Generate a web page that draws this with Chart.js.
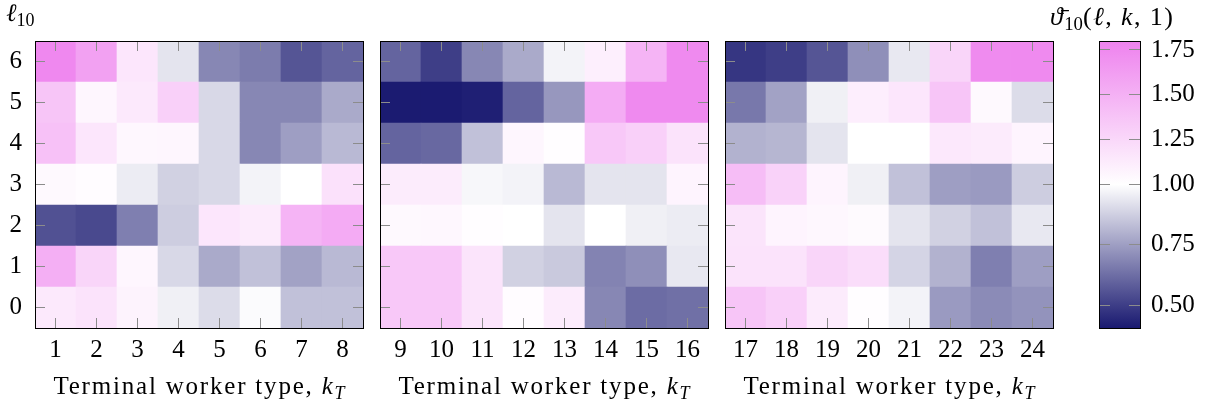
<!DOCTYPE html>
<html>
<head>
<meta charset="utf-8">
<script src="https://cdn.jsdelivr.net/npm/chart.js@4.4.1/dist/chart.umd.min.js"></script>
<style>
  html, body { margin: 0; padding: 0; background: #fff; }
  #wrap { position: relative; width: 1213px; height: 408px; overflow: hidden; font-family: "Liberation Serif", serif; color: #000; }
  #wrap canvas { position: absolute; left: 0; top: 0; }
  .lbl { position: absolute; white-space: nowrap; font-size: 25px; line-height: 25px; }
  .xt { width: 340px; text-align: center; letter-spacing: 1.8px; top: 373px; }
  .cb { font-size: 26px; letter-spacing: 1.4px; }
  .lbl sub { font-size: 72%; vertical-align: baseline; position: relative; top: 0.28em; line-height: 0; letter-spacing: 0; }
</style>
</head>
<body>
<div id="wrap">
  <canvas id="panel0" width="1213" height="408"></canvas>
  <canvas id="panel1" width="1213" height="408"></canvas>
  <canvas id="panel2" width="1213" height="408"></canvas>
  <canvas id="colorbar" width="1213" height="408"></canvas>
  <div class="lbl" style="left:6px; top:0px;"><i>ℓ</i><sub>10</sub></div>
  <div class="lbl xt" style="left:29px;">Terminal worker type, <i>k</i><sub><i>T</i></sub></div>
  <div class="lbl xt" style="left:374px;">Terminal worker type, <i>k</i><sub><i>T</i></sub></div>
  <div class="lbl xt" style="left:719px;">Terminal worker type, <i>k</i><sub><i>T</i></sub></div>
  <div class="lbl cb" style="left:1050px; top:4px;"><i>ϑ̄</i><sub>10</sub>(<i>ℓ</i>, <i>k</i>, 1)</div>
</div>
<script>
// heatmap values, one array per row ell_10 = 0..6, columns k_T = 1..24
const workerTypes = [1, 2, 3, 4, 5, 6, 7, 8, 9, 10, 11, 12, 13, 14, 15, 16, 17, 18, 19, 20, 21, 22, 23, 24];
const ellLevels = [0, 1, 2, 3, 4, 5, 6];

const ell0 = [1.14, 1.18, 1.08, 0.96, 0.91, 0.99, 0.84, 0.84, 1.35, 1.35, 1.17, 1.02, 1.12, 0.69, 0.62, 0.63, 1.37, 1.30, 1.13, 1.01, 0.97, 0.74, 0.70, 0.72];
const ell1 = [1.51, 1.27, 1.06, 0.90, 0.78, 0.84, 0.76, 0.82, 1.35, 1.35, 1.17, 0.88, 0.86, 0.68, 0.71, 0.94, 1.18, 1.18, 1.27, 1.22, 0.89, 0.80, 0.67, 0.75];
const ell2 = [0.55, 0.53, 0.67, 0.87, 1.16, 1.13, 1.48, 1.54, 1.04, 1.05, 1.01, 1.00, 0.93, 1.00, 0.96, 0.95, 1.17, 1.07, 1.05, 1.03, 0.93, 0.88, 0.84, 0.94];
const ell3 = [1.04, 1.02, 0.95, 0.88, 0.90, 0.97, 1.00, 1.19, 1.12, 1.12, 0.98, 0.97, 0.82, 0.93, 0.93, 1.07, 1.42, 1.29, 1.07, 0.96, 0.84, 0.75, 0.74, 0.87];
const ell4 = [1.40, 1.16, 1.05, 1.06, 0.90, 0.69, 0.75, 0.82, 0.60, 0.61, 0.84, 1.06, 1.01, 1.35, 1.30, 1.18, 0.80, 0.81, 0.93, 1.00, 1.00, 1.15, 1.13, 1.07];
const ell5 = [1.37, 1.06, 1.14, 1.30, 0.90, 0.69, 0.69, 0.78, 0.41, 0.41, 0.42, 0.60, 0.73, 1.53, 1.75, 1.75, 0.65, 0.76, 0.96, 1.11, 1.16, 1.37, 1.04, 0.91];
const ell6 = [1.76, 1.60, 1.16, 0.93, 0.69, 0.66, 0.56, 0.60, 0.60, 0.50, 0.69, 0.78, 0.97, 1.10, 1.48, 1.75, 0.48, 0.50, 0.56, 0.71, 0.94, 1.27, 1.74, 1.75];
const ellRows = [ell0, ell1, ell2, ell3, ell4, ell5, ell6];

const colorTicks = [0.50, 0.75, 1.00, 1.25, 1.50, 1.75];
const colorMin = 0.405;
const colorMax = 1.8;

const navy = [25, 25, 112];
const white = [255, 255, 255];
const violet = [238, 130, 238];

Chart.defaults.font.family = "'Liberation Serif', serif";
Chart.defaults.font.size = 25;
Chart.defaults.color = '#000';

function mix(a, b, t) {
    const c = a.map((v, i) => Math.round(v + (b[i] - v) * t));
    return 'rgb(' + c.join(',') + ')';
}

function cellColor(v) {
    if (v >= 1) return mix(white, violet, Math.min(1, (v - 1) / (colorMax - 1)));
    return mix(white, navy, Math.min(1, (1 - v) / (1 - colorMin)));
}

// two-slope normalisation used by the colour bar axis
function norm(v) {
    return v >= 1 ? (v - 1) / (colorMax - 1) : (v - 1) / (1 - colorMin);
}

// axis boxes get a fixed size so the plot areas land where they should
const fixSize = n => s => { if (s.isHorizontal()) s.height = n; else s.width = n; };
const frame = { display: true, color: '#000', width: 1, z: 1 };
function innerTicks(len) {
    return { drawOnChartArea: false, drawTicks: true, tickLength: -len, color: '#8c8c8c', tickColor: '#8c8c8c', tickWidth: 1, offset: false, z: 1 };
}

const W = 1213, H = 408;
const plotTop = 41;
const panelLeft = [35, 380, 725];
const cellSize = 41;

function renderPanel(canvasId, p) {
    const from = p * 8, to = from + 8;
    const cols = workerTypes.slice(from, to);
    const left = panelLeft[p];
    const right = W - (left + cols.length * cellSize);
    const bottom = H - (plotTop + ellLevels.length * cellSize);

    const datasets = ellRows.map((row, l) => ({
        label: 'ell ' + l,
        data: cols.map(() => [ellLevels[l] - 0.5, ellLevels[l] + 0.5]),
        backgroundColor: row.slice(from, to).map(cellColor),
        borderWidth: 0,
        barPercentage: 1,
        categoryPercentage: 1,
        grouped: false
    }));

    const rowTicks = s => { s.ticks = ellLevels.map(v => ({ value: v })); };

    new Chart(document.getElementById(canvasId), {
        type: 'bar',
        data: { labels: cols.map(String), datasets: datasets },
        options: {
            responsive: false,
            animation: false,
            events: [],
            layout: { padding: { left: 0, right: right, top: plotTop, bottom: 0 } },
            plugins: { legend: { display: false }, tooltip: { enabled: false } },
            scales: {
                x: {
                    type: 'category', position: 'bottom', offset: true,
                    grid: innerTicks(10), border: frame, afterFit: fixSize(bottom),
                    ticks: { padding: 17, maxRotation: 0, autoSkip: false }
                },
                x2: {
                    type: 'category', axis: 'x', position: 'top', offset: true,
                    grid: innerTicks(10), border: frame, afterFit: fixSize(0),
                    ticks: { display: false }
                },
                y: {
                    type: 'linear', position: 'left', min: -0.5, max: 6.5,
                    grid: innerTicks(10), border: frame, afterFit: fixSize(left),
                    afterBuildTicks: rowTicks,
                    ticks: { display: p === 0, padding: 23 }
                },
                y2: {
                    type: 'linear', axis: 'y', position: 'right', min: -0.5, max: 6.5,
                    grid: innerTicks(10), border: frame, afterFit: fixSize(0),
                    afterBuildTicks: rowTicks,
                    ticks: { display: false }
                }
            }
        }
    });
}

function renderColorbar(canvasId) {
    const left = 1099, width = 41;
    const bottom = H - (plotTop + ellLevels.length * cellSize);
    const cbTicks = s => { s.ticks = colorTicks.map(v => ({ value: norm(v) })); };

    new Chart(document.getElementById(canvasId), {
        type: 'bar',
        data: {
            labels: [''],
            datasets: [{
                data: [[-1, 1]],
                backgroundColor: function (context) {
                    const area = context.chart.chartArea;
                    if (!area) return null;
                    const g = context.chart.ctx.createLinearGradient(0, area.bottom, 0, area.top);
                    g.addColorStop(0, cellColor(colorMin));
                    g.addColorStop(0.5, cellColor(1));
                    g.addColorStop(1, cellColor(colorMax));
                    return g;
                },
                borderWidth: 0,
                barPercentage: 1,
                categoryPercentage: 1
            }]
        },
        options: {
            responsive: false,
            animation: false,
            events: [],
            layout: { padding: { left: left, right: 0, top: plotTop, bottom: bottom } },
            plugins: { legend: { display: false }, tooltip: { enabled: false } },
            scales: {
                x: {
                    type: 'category', position: 'bottom', offset: true,
                    grid: { display: false }, border: frame, afterFit: fixSize(0),
                    ticks: { display: false }
                },
                x2: {
                    type: 'category', axis: 'x', position: 'top', offset: true,
                    grid: { display: false }, border: frame, afterFit: fixSize(0),
                    ticks: { display: false }
                },
                y: {
                    type: 'linear', position: 'right', min: -1, max: 1,
                    grid: innerTicks(11), border: frame, afterFit: fixSize(W - left - width),
                    afterBuildTicks: cbTicks,
                    ticks: { padding: 22, callback: (value, index) => colorTicks[index].toFixed(2) }
                },
                y2: {
                    type: 'linear', axis: 'y', position: 'left', min: -1, max: 1,
                    grid: innerTicks(11), border: frame, afterFit: fixSize(0),
                    afterBuildTicks: cbTicks,
                    ticks: { display: false }
                }
            }
        }
    });
}

renderPanel('panel0', 0);
renderPanel('panel1', 1);
renderPanel('panel2', 2);
renderColorbar('colorbar');
</script>
</body>
</html>
